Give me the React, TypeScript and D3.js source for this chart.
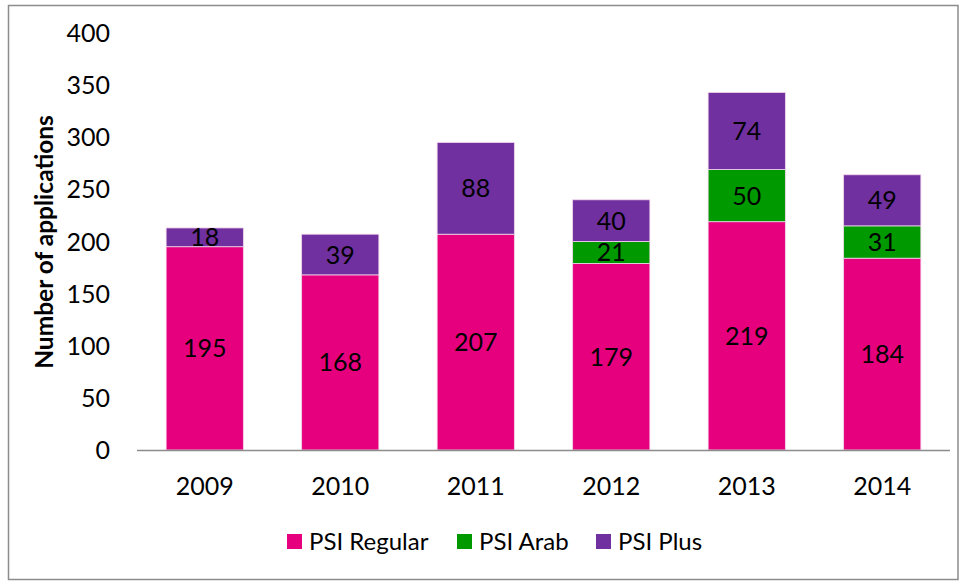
import React, { useEffect, useRef } from "react";
import * as d3 from "d3";

const years = ["2009", "2010", "2011", "2012", "2013", "2014"];
const psiRegular = [195, 168, 207, 179, 219, 184];
const psiArab = [0, 0, 0, 21, 50, 31];
const psiPlus = [18, 39, 88, 40, 74, 49];
const seriesNames = ["PSI Regular", "PSI Arab", "PSI Plus"];
const seriesColors = ["#E6007E", "#009900", "#7030A0"];
const yTicks = [0, 50, 100, 150, 200, 250, 300, 350, 400];

const FONT = "Lato, 'Open Sans', sans-serif";

const App: React.FC = () => {
  const svgRef = useRef<SVGSVGElement>(null);

  useEffect(() => {
    if (!svgRef.current) return;
    const svg = d3.select(svgRef.current);
    svg.selectAll("*").remove();

    const width = 959;
    const height = 581;
    const left = 137;
    const right = 950;
    const top = 33;
    const bottom = 450;

    // chart frame
    svg
      .append("rect")
      .attr("x", 8.5)
      .attr("y", 5.5)
      .attr("width", width - 9.5)
      .attr("height", height - 7)
      .attr("fill", "white")
      .attr("stroke", "#8c8c8c")
      .attr("stroke-width", 1.5);

    const x = d3.scaleBand().domain(years).range([left, right]).paddingInner(0.43).paddingOuter(0.215);
    const y = d3.scaleLinear().domain([0, 400]).range([bottom, top]);

    const rows = years.map((yr, i) => ({
      year: yr,
      "PSI Regular": psiRegular[i],
      "PSI Arab": psiArab[i],
      "PSI Plus": psiPlus[i],
    }));
    const stacked = d3.stack<any>().keys(seriesNames)(rows);

    // y tick labels
    svg
      .append("g")
      .selectAll("text")
      .data(yTicks)
      .join("text")
      .attr("x", 110)
      .attr("y", (d) => y(d))
      .attr("dy", "0.36em")
      .attr("text-anchor", "end")
      .style("font-family", FONT)
      .style("font-size", "25px")
      .text((d) => d);

    // y axis title
    svg
      .append("text")
      .attr("transform", `translate(53,242) rotate(-90)`)
      .attr("text-anchor", "middle")
      .style("font-family", FONT)
      .style("font-size", "24.5px")
      .style("font-weight", "bold")
      .text("Number of applications");

    stacked.forEach((layer, si) => {
      const g = svg.append("g");
      layer.forEach((seg, i) => {
        const val = seg[1] - seg[0];
        if (val <= 0) return;
        g.append("rect")
          .attr("x", x(years[i])!)
          .attr("y", y(seg[1]))
          .attr("width", x.bandwidth())
          .attr("height", y(seg[0]) - y(seg[1]))
          .attr("fill", seriesColors[si])
          .attr("stroke", "#f3d6ea")
          .attr("stroke-width", 0.8);
        g.append("text")
          .attr("x", x(years[i])! + x.bandwidth() / 2)
          .attr("y", (y(seg[0]) + y(seg[1])) / 2)
          .attr("dy", "0.36em")
          .attr("text-anchor", "middle")
          .style("font-family", FONT)
          .style("font-size", "25px")
          .text(val);
      });
    });

    // x axis line
    svg
      .append("line")
      .attr("x1", left)
      .attr("x2", right)
      .attr("y1", bottom + 0.5)
      .attr("y2", bottom + 0.5)
      .attr("stroke", "#8c8c8c")
      .attr("stroke-width", 1.5);

    // x tick labels
    svg
      .append("g")
      .selectAll("text")
      .data(years)
      .join("text")
      .attr("x", (d) => x(d)! + x.bandwidth() / 2)
      .attr("y", 486)
      .attr("dy", "0.36em")
      .attr("text-anchor", "middle")
      .style("font-family", FONT)
      .style("font-size", "25px")
      .text((d) => d);

    // legend
    const legendX = [287, 457, 596];
    const legend = svg.append("g");
    seriesNames.forEach((name, i) => {
      legend
        .append("rect")
        .attr("x", legendX[i])
        .attr("y", 534)
        .attr("width", 15)
        .attr("height", 15)
        .attr("fill", seriesColors[i]);
      legend
        .append("text")
        .attr("x", legendX[i] + 22)
        .attr("y", 541)
        .attr("dy", "0.36em")
        .style("font-family", FONT)
        .style("font-size", "24px")
        .text(name);
    });
  }, []);

  return (
    <div style={{ position: "absolute", left: 0, top: 0 }}>
      <svg ref={svgRef} width={959} height={581} style={{ display: "block" }} />
    </div>
  );
};

export default App;
